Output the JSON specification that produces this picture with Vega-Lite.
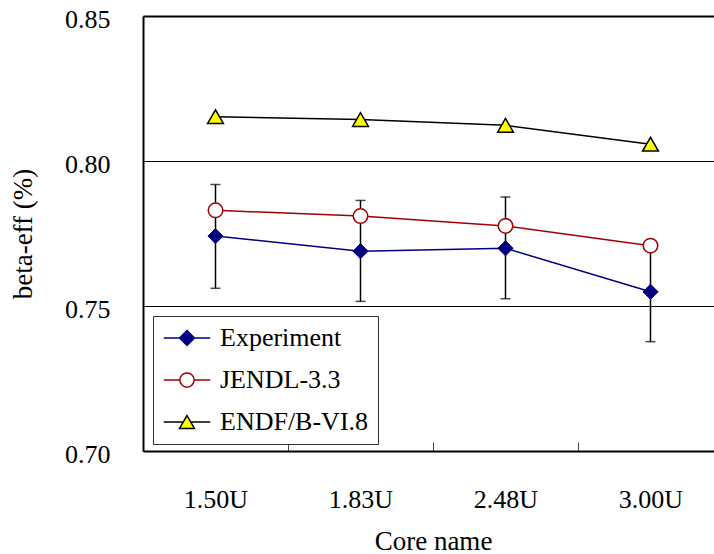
{
  "$schema": "https://vega.github.io/schema/vega-lite/v6.json",
  "width": 571,
  "height": 435,
  "autosize": {"type": "none"},
  "padding": {"left": 143, "top": 16, "right": 0, "bottom": 103},
  "background": "white",
  "config": {
    "view": {"stroke": null},
    "font": "Liberation Serif",
    "axis": {"labelFont": "Liberation Serif", "titleFont": "Liberation Serif"},
    "legend": {"labelFont": "Liberation Serif"}
  },
  "data": {
    "values": [
      {"core": "1.50U", "series": "Experiment", "value": 0.7741, "lower": 0.7561, "upper": 0.7919},
      {"core": "1.83U", "series": "Experiment", "value": 0.7689, "lower": 0.7516, "upper": 0.7864},
      {"core": "2.48U", "series": "Experiment", "value": 0.7699, "lower": 0.7525, "upper": 0.7876},
      {"core": "3.00U", "series": "Experiment", "value": 0.7549, "lower": 0.7377, "upper": 0.7718},
      {"core": "1.50U", "series": "JENDL-3.3", "value": 0.7830},
      {"core": "1.83U", "series": "JENDL-3.3", "value": 0.7810},
      {"core": "2.48U", "series": "JENDL-3.3", "value": 0.7776},
      {"core": "3.00U", "series": "JENDL-3.3", "value": 0.7708},
      {"core": "1.50U", "series": "ENDF/B-VI.8", "value": 0.8153},
      {"core": "1.83U", "series": "ENDF/B-VI.8", "value": 0.8143},
      {"core": "2.48U", "series": "ENDF/B-VI.8", "value": 0.8123},
      {"core": "3.00U", "series": "ENDF/B-VI.8", "value": 0.8058}
    ]
  },
  "encoding": {
    "x": {
      "field": "core",
      "type": "nominal",
      "sort": ["1.50U", "1.83U", "2.48U", "3.00U"],
      "scale": {"type": "band", "range": [0, 580], "paddingInner": 0, "paddingOuter": 0},
      "axis": {
        "title": "Core name",
        "labelAngle": 0,
        "labelFont": "Liberation Serif",
        "labelFontSize": 26,
        "labelColor": "black",
        "labelPadding": 44,
        "tickBand": "extent",
        "ticks": true,
        "tickSize": -9,
        "tickColor": "#444444",
        "tickWidth": 1,
        "domainColor": "black",
        "domainWidth": 2,
        "grid": false,
        "titleFont": "Liberation Serif",
        "titleFontSize": 27,
        "titleFontWeight": "normal",
        "titleColor": "black",
        "titlePadding": 16
      }
    },
    "y": {
      "field": "value",
      "type": "quantitative",
      "scale": {"domain": [0.70, 0.85], "nice": false, "zero": false},
      "axis": {
        "title": "beta-eff (%)",
        "values": [0.70, 0.75, 0.80, 0.85],
        "format": ".2f",
        "labelFont": "Liberation Serif",
        "labelFontSize": 26,
        "labelColor": "black",
        "labelPadding": 33,
        "labelOffset": 3,
        "ticks": false,
        "domainColor": "black",
        "domainWidth": 2,
        "grid": true,
        "gridColor": "black",
        "gridOpacity": 1,
        "gridWidth": {"condition": {"test": "datum.value >= 0.85", "value": 2}, "value": 1},
        "titleFont": "Liberation Serif",
        "titleFontSize": 27,
        "titleFontWeight": "normal",
        "titleColor": "black",
        "titlePadding": 27
      }
    }
  },
  "layer": [
    {
      "transform": [{"filter": "datum.series === 'Experiment'"}],
      "mark": {"type": "rule", "color": "black", "strokeWidth": 1.5},
      "encoding": {"y": {"field": "lower", "type": "quantitative"}, "y2": {"field": "upper"}}
    },
    {
      "transform": [{"filter": "datum.series === 'Experiment'"}],
      "mark": {"type": "tick", "color": "black", "thickness": 1.5, "size": 10, "orient": "horizontal"},
      "encoding": {"y": {"field": "lower", "type": "quantitative"}}
    },
    {
      "transform": [{"filter": "datum.series === 'Experiment'"}],
      "mark": {"type": "tick", "color": "black", "thickness": 1.5, "size": 10, "orient": "horizontal"},
      "encoding": {"y": {"field": "upper", "type": "quantitative"}}
    },
    {
      "transform": [{"filter": "datum.series === 'ENDF/B-VI.8'"}],
      "mark": {"type": "line", "color": "black", "strokeWidth": 1.5,
        "point": {"shape": "triangle-up", "size": 250, "filled": true, "fill": "#ffff00", "stroke": "black", "strokeWidth": 1.5, "opacity": 1}}
    },
    {
      "transform": [{"filter": "datum.series === 'JENDL-3.3'"}],
      "mark": {"type": "line", "color": "#a00000", "strokeWidth": 1.5,
        "point": {"shape": "circle", "size": 210, "filled": true, "fill": "white", "stroke": "#a00000", "strokeWidth": 1.5, "opacity": 1}}
    },
    {
      "transform": [{"filter": "datum.series === 'Experiment'"}],
      "mark": {"type": "line", "color": "#000080", "strokeWidth": 1.5,
        "point": {"shape": "diamond", "size": 230, "filled": true, "fill": "#000080", "stroke": "#000080", "strokeWidth": 1, "opacity": 1}}
    },
    {
      "mark": {"type": "point", "opacity": 0, "filled": true, "size": 10},
      "encoding": {
        "shape": {
          "field": "series",
          "type": "nominal",
          "scale": {
            "domain": ["Experiment", "JENDL-3.3", "ENDF/B-VI.8"],
            "range": [
              "M-3.1,0H-1M-1,0L0,-1L1,0L0,1ZM1,0H3.1",
              "M-3.1,0H-0.95M-0.95,0A0.95,0.95,0,1,1,0.95,0A0.95,0.95,0,1,1,-0.95,0ZM0.95,0H3.1",
              "M-3.1,0H-0.5M0,-0.866L1,0.866L-1,0.866ZM0.5,0H3.1"
            ]
          },
          "legend": {
            "title": null,
            "orient": "none",
            "legendX": 10,
            "legendY": 300,
            "padding": 9,
            "strokeColor": "#333333",
            "fillColor": "white",
            "labelFont": "Liberation Serif",
            "labelFontSize": 26,
            "labelColor": "black",
            "labelLimit": 400,
            "symbolSize": 225,
            "symbolOpacity": 1,
            "symbolStrokeWidth": 1.5,
            "symbolOffset": 12,
            "labelOffset": 20,
            "rowPadding": 16
          }
        },
        "fill": {
          "field": "series",
          "type": "nominal",
          "scale": {"domain": ["Experiment", "JENDL-3.3", "ENDF/B-VI.8"], "range": ["#000080", "white", "#ffff00"]}
        },
        "stroke": {
          "field": "series",
          "type": "nominal",
          "scale": {"domain": ["Experiment", "JENDL-3.3", "ENDF/B-VI.8"], "range": ["#000080", "#a00000", "black"]}
        }
      }
    }
  ]
}
